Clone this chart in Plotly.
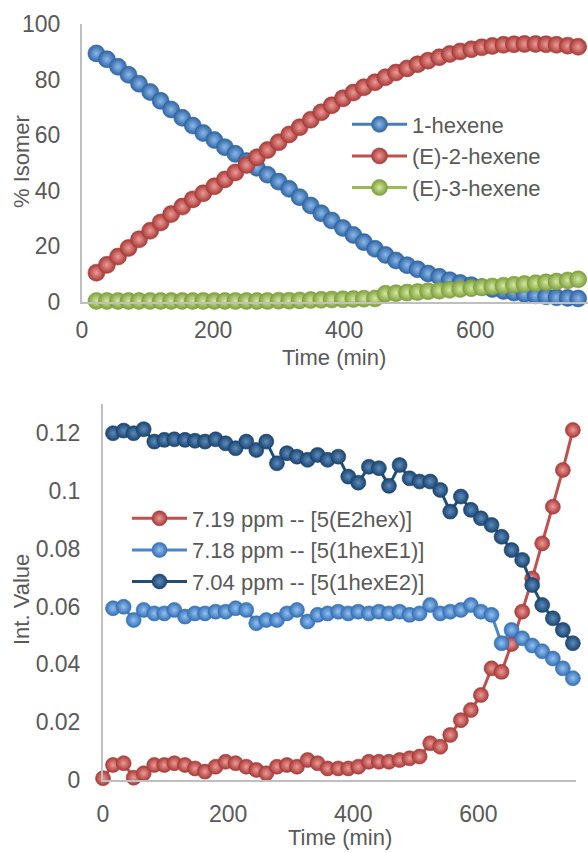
import plotly.graph_objects as go

# ---------------- data: top chart ----------------
t_top = [22, 38, 55, 71, 87, 104, 120, 136, 153, 169, 185, 202, 218, 234, 251, 267,
         283, 300, 316, 332, 349, 365, 381, 398, 414, 430, 447, 463, 479, 496, 512, 528,
         545, 561, 577, 594, 610, 626, 643, 659, 675, 692, 708, 724, 741, 757]
hex1 = [89.4, 87.3, 84.6, 81.7, 78.5, 75.5, 72.3, 69.2, 66.2, 63.4, 60.7, 58.2, 55.6, 53.2,
        50.6, 48.2, 45.7, 43.2, 40.6, 37.6, 34.6, 31.8, 29.2, 26.5, 24.0, 21.4, 19.0, 16.8,
        14.8, 13.1, 11.6, 10.1, 8.9, 7.7, 6.7, 5.9, 5.2, 4.5, 3.8, 3.2, 2.7, 2.2, 1.9, 1.5,
        1.3, 1.1]
hex2E = [10.4, 13.2, 16.2, 19.3, 22.4, 25.5, 28.5, 31.5, 34.2, 36.8, 39.0, 41.5, 44.0, 46.5,
         49.2, 52.0, 54.6, 57.4, 60.2, 62.8, 65.5, 68.2, 70.7, 73.2, 75.3, 77.2, 79.0, 80.8,
         82.5, 84.0, 85.5, 86.8, 88.0, 89.2, 90.1, 90.9, 91.6, 92.1, 92.5, 92.7, 92.8, 92.8,
         92.7, 92.5, 92.2, 91.8]
hex3E = [0.2, 0.2, 0.2, 0.2, 0.2, 0.2, 0.2, 0.2, 0.2, 0.2, 0.2, 0.2, 0.2, 0.2, 0.2, 0.2,
         0.2, 0.3, 0.3, 0.4, 0.5, 0.6, 0.7, 0.8, 0.9, 1.0, 1.1, 2.8, 3.0, 3.2, 3.4, 3.7,
         3.9, 4.2, 4.5, 4.8, 5.1, 5.4, 5.7, 6.0, 6.3, 6.6, 6.9, 7.2, 7.6, 8.0]
top_names = ["1-hexene", "(E)-2-hexene", "(E)-3-hexene"]
top_xticks = [0, 200, 400, 600]
top_yticks = [0, 20, 40, 60, 80, 100]

# ---------------- data: bottom chart ----------------
t_bot = [0, 16, 33, 49, 65, 82, 98, 114, 131, 147, 163, 180, 196, 212, 229, 245, 261, 278,
         294, 310, 327, 343, 359, 376, 392, 408, 425, 441, 457, 474, 490, 506, 523, 539,
         555, 572, 588, 604, 621, 637, 653, 670, 686, 702, 719, 735, 751]
ppm719 = [0.0006, 0.0052, 0.0058, 0.0008, 0.0023, 0.0052, 0.0052, 0.0058, 0.0052, 0.0040,
          0.0029, 0.0046, 0.0063, 0.0058, 0.0046, 0.0035, 0.0023, 0.0046, 0.0052, 0.0046,
          0.0069, 0.0058, 0.0040, 0.0040, 0.0040, 0.0046, 0.0063, 0.0063, 0.0063, 0.0069,
          0.0075, 0.0081, 0.0127, 0.0115, 0.0156, 0.0207, 0.0242, 0.0294, 0.0386, 0.0374,
          0.0470, 0.0582, 0.0697, 0.0818, 0.0945, 0.1072, 0.1210]
ppm718 = [0.0594, 0.0599, 0.0553, 0.0588, 0.0576, 0.0576, 0.0588, 0.0565, 0.0576, 0.0576,
          0.0582, 0.0582, 0.0594, 0.0588, 0.0542, 0.0553, 0.0553, 0.0576, 0.0588, 0.0548,
          0.0571, 0.0576, 0.0582, 0.0576, 0.0582, 0.0576, 0.0582, 0.0576, 0.0582, 0.0571,
          0.0576, 0.0605, 0.0576, 0.0582, 0.0588, 0.0605, 0.0582, 0.0571, 0.0473, 0.0519,
          0.0490, 0.0465, 0.0445, 0.0420, 0.0386, 0.0352]
ppm704 = [0.1199, 0.1208, 0.1199, 0.1213, 0.1170, 0.1176, 0.1178, 0.1176, 0.1173, 0.1170,
          0.1178, 0.1164, 0.1147, 0.1170, 0.1141, 0.1170, 0.1095, 0.1130, 0.1118, 0.1107,
          0.1124, 0.1107, 0.1118, 0.1049, 0.1028, 0.1083, 0.1078, 0.1017, 0.1089, 0.1043,
          0.1032, 0.1032, 0.1003, 0.0928, 0.0980, 0.0934, 0.0905, 0.0882, 0.0841, 0.0795,
          0.0761, 0.0674, 0.0605, 0.0559, 0.0519, 0.0473]
bot_names = ["7.19 ppm -- [5(E2hex)]", "7.18 ppm -- [5(1hexE1)]", "7.04 ppm -- [5(1hexE2)]"]
bot_xticks = [0, 200, 400, 600]
bot_yticks = [0, 0.02, 0.04, 0.06, 0.08, 0.1, 0.12]

# ---------------- styling ----------------
FONT = "Liberation Sans, Arial, sans-serif"
TXT = "#595959"
AX = "#bfbfbf"

# (line color, edge color, highlight color)
C_BLUE = ("#4a7ebb", "#2f64a3", "#8ab8ea")
C_RED = ("#c0504d", "#a83a37", "#ec9a97")
C_GREEN = ("#9bbb59", "#7f9f3c", "#d2e8a0")
C_LBLUE = ("#4a86c8", "#3470b5", "#93c0f0")
C_DBLUE = ("#1f4e79", "#1a4470", "#5d8bbb")


def trace(x, y, name, col, size, xa, ya, legend):
    return go.Scatter(
        x=x, y=y, name=name, mode="lines+markers", xaxis=xa, yaxis=ya, legend=legend,
        cliponaxis=False,
        line=dict(color=col[0], width=3),
        marker=dict(size=size, color=col[1],
                    gradient=dict(type="radial", color=col[2]),
                    line=dict(color=col[1], width=0.6)),
    )


fig = go.Figure()
fig.add_trace(trace(t_top, hex1, top_names[0], C_BLUE, 17, "x", "y", "legend"))
fig.add_trace(trace(t_top, hex2E, top_names[1], C_RED, 17, "x", "y", "legend"))
fig.add_trace(trace(t_top, hex3E, top_names[2], C_GREEN, 17, "x", "y", "legend"))
fig.add_trace(trace(t_bot, ppm719, bot_names[0], C_RED, 15, "x2", "y2", "legend2"))
fig.add_trace(trace(t_bot[1:], ppm718, bot_names[1], C_LBLUE, 15, "x2", "y2", "legend2"))
fig.add_trace(trace(t_bot[1:], ppm704, bot_names[2], C_DBLUE, 15, "x2", "y2", "legend2"))

W, H = 588, 853


def px_x(p):
    return p / W


def px_y(p):
    return 1 - p / H


TICKF = dict(family=FONT, size=23, color=TXT)
TITLEF = dict(family=FONT, size=22, color=TXT)
LEGF = dict(family=FONT, size=22, color=TXT)
axis_common = dict(showgrid=False, zeroline=False, showline=True, linecolor=AX, linewidth=2,
                   ticks="", tickfont=TICKF, automargin=False)

titles = [
    ("Time (min)", 334, 357, 0),
    ("% Isomer", 21, 162, -90),
    ("Time (min)", 340, 837, 0),
    ("Int. Value", 21, 600, -90),
]
annotations = [
    dict(text=t, x=px_x(x), y=px_y(y), xref="paper", yref="paper", showarrow=False,
         xanchor="center", yanchor="middle", textangle=a, font=TITLEF)
    for t, x, y, a in titles
]

fig.update_layout(
    width=W, height=H,
    margin=dict(l=0, r=0, t=0, b=0),
    paper_bgcolor="white", plot_bgcolor="white",
    font=dict(family=FONT, color=TXT),
    annotations=annotations,
    xaxis=dict(domain=[px_x(82), px_x(588)], range=[0, 772], tickvals=top_xticks,
               anchor="y", ticklabelstandoff=7, **axis_common),
    yaxis=dict(domain=[px_y(301.5), px_y(24)], range=[0, 100], tickvals=top_yticks,
               anchor="x", ticklabelstandoff=15, **axis_common),
    xaxis2=dict(domain=[px_x(103), px_x(576)], range=[0, 756], tickvals=bot_xticks,
                anchor="y2", ticklabelstandoff=12, **axis_common),
    yaxis2=dict(domain=[px_y(780), px_y(404)], range=[0, 0.13], tickvals=bot_yticks,
                anchor="x2", ticklabelstandoff=16, **axis_common),
    legend=dict(x=px_x(347), y=px_y(103.5), xanchor="left", yanchor="top",
                font=LEGF, bgcolor="rgba(0,0,0,0)", itemwidth=55, tracegroupgap=0),
    legend2=dict(x=px_x(127), y=px_y(497.5), xanchor="left", yanchor="top",
                 font=LEGF, bgcolor="rgba(0,0,0,0)", itemwidth=55, tracegroupgap=0),
)

fig.write_html("out.html", config={"displayModeBar": False},
               post_script="document.body.style.margin='0';document.body.style.overflow='hidden';")
